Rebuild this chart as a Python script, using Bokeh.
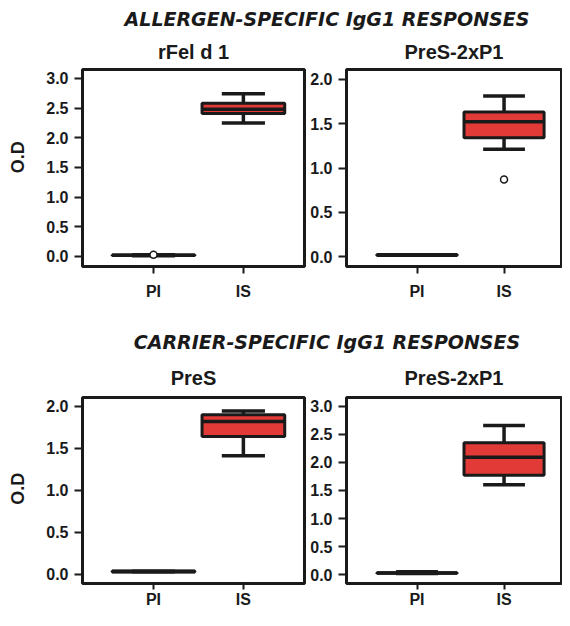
from math import pi
from bokeh.plotting import figure
from bokeh.layouts import column, row
from bokeh.models import FixedTicker, Range1d, Label, NumeralTickFormatter
from bokeh.embed import file_html
from bokeh.resources import INLINE

# ---------------- data ----------------
categories = ["PI", "IS"]
cat_pos = [1, 2]

header_top = "ALLERGEN-SPECIFIC IgG1 RESPONSES"
header_bottom = "CARRIER-SPECIFIC IgG1 RESPONSES"
y_label = "O.D"

# rFel d 1 (allergen-specific)
rfel_lower = [0.01, 2.25]
rfel_q1 = [0.015, 2.41]
rfel_median = [0.02, 2.48]
rfel_q3 = [0.025, 2.58]
rfel_upper = [0.03, 2.74]
rfel_out_cat = ["PI"]
rfel_out_val = [0.03]

# PreS-2xP1 (allergen-specific)
pa_lower = [0.02, 1.21]
pa_q1 = [0.015, 1.34]
pa_median = [0.02, 1.52]
pa_q3 = [0.025, 1.63]
pa_upper = [0.02, 1.81]
pa_out_cat = ["IS"]
pa_out_val = [0.87]

# PreS (carrier-specific)
pres_lower = [0.03, 1.41]
pres_q1 = [0.025, 1.64]
pres_median = [0.03, 1.82]
pres_q3 = [0.035, 1.90]
pres_upper = [0.03, 1.945]
pres_out_cat = []
pres_out_val = []

# PreS-2xP1 (carrier-specific)
pc_lower = [0.02, 1.60]
pc_q1 = [0.025, 1.77]
pc_median = [0.03, 2.09]
pc_q3 = [0.035, 2.35]
pc_upper = [0.05, 2.66]
pc_out_cat = []
pc_out_val = []

ticks_3 = [0.0, 0.5, 1.0, 1.5, 2.0, 2.5, 3.0]
ticks_2 = [0.0, 0.5, 1.0, 1.5, 2.0]

# ---------------- style ----------------
DARK = "#1a1a1a"
RED = "#e23a37"
BOX_W = 0.92
CAP_W = 0.48
SANS = "Liberation Sans"
TOTAL_W = 562


def blank(w, h):
    p = figure(output_backend="svg", toolbar_location=None, width=w, height=h,
               min_border=0, x_axis_location=None, y_axis_location=None,
               outline_line_color=None, x_range=Range1d(0, w), y_range=Range1d(0, h))
    p.grid.visible = False
    p.title.visible = False
    return p


def header(text, h, base):
    p = blank(TOTAL_W, h)
    p.add_layout(Label(x=326.5, y=base, text=text, text_align="center",
                       text_baseline="alphabetic", text_font="DejaVu Sans",
                       text_font_style="bold italic", text_font_size="19px",
                       text_color=DARK))
    return p


def ylab(h, yc):
    p = blank(43, h)
    p.add_layout(Label(x=17, y=yc, text=y_label, angle=pi / 2, text_align="center",
                       text_baseline="alphabetic", text_font=SANS, text_font_style="bold",
                       text_font_size="18px", text_color=DARK))
    return p


def panel(title, lower, q1, med, q3, upper, out_cat, out_val, y_lo, y_hi, ticks,
          x_lo, x_hi, w, h, mbl, mbr, mbt, mbb, tstand, xtick, xstand):
    p = figure(output_backend="svg", toolbar_location=None, width=w, height=h,
               x_range=Range1d(x_lo, x_hi), y_range=Range1d(y_lo, y_hi),
               min_border_left=mbl, min_border_right=mbr, min_border_top=mbt,
               min_border_bottom=mbb, background_fill_color="white",
               border_fill_color="white")
    p.grid.visible = False
    p.outline_line_color = DARK
    p.outline_line_width = 3
    p.outline_line_alpha = 1.0

    p.title.text = title
    p.title.align = "center"
    p.title.text_font = SANS
    p.title.text_font_style = "bold"
    p.title.text_font_size = "20px"
    p.title.text_color = DARK
    p.title.standoff = tstand

    for ax in (p.xaxis[0], p.yaxis[0]):
        ax.axis_line_color = None
        ax.major_tick_line_color = DARK
        ax.major_tick_line_width = 2
        ax.major_tick_in = 0
        ax.minor_tick_line_color = None
        ax.major_label_text_font = SANS
        ax.major_label_text_font_style = "bold"
        ax.major_label_text_font_size = "16px"
        ax.major_label_text_color = DARK
        ax.major_label_text_line_height = 1.0
    p.yaxis[0].major_tick_out = 8
    p.yaxis[0].major_label_standoff = 6
    p.xaxis[0].major_tick_out = xtick
    p.xaxis[0].major_label_standoff = xstand
    p.xaxis.ticker = FixedTicker(ticks=cat_pos)
    p.xaxis.major_label_overrides = {pos: c for pos, c in zip(cat_pos, categories)}
    p.yaxis.ticker = FixedTicker(ticks=ticks)
    p.yaxis.formatter = NumeralTickFormatter(format="0.0")

    xs = cat_pos
    # whiskers
    p.segment(x0=xs, x1=xs, y0=q3, y1=upper, line_color=DARK, line_width=3.5)
    p.segment(x0=xs, x1=xs, y0=lower, y1=q1, line_color=DARK, line_width=3.5)
    cx0 = [x - CAP_W / 2 for x in xs]
    cx1 = [x + CAP_W / 2 for x in xs]
    p.segment(x0=cx0, x1=cx1, y0=upper, y1=upper, line_color=DARK, line_width=3.5)
    p.segment(x0=cx0, x1=cx1, y0=lower, y1=lower, line_color=DARK, line_width=3.5)
    # boxes
    p.vbar(x=xs, width=BOX_W, bottom=q1, top=q3, fill_color=RED, line_color=DARK, line_width=3)
    # medians
    mx0 = [x - BOX_W / 2 for x in xs]
    mx1 = [x + BOX_W / 2 for x in xs]
    p.segment(x0=mx0, x1=mx1, y0=med, y1=med, line_color=DARK, line_width=3.5)
    # outliers
    if out_cat:
        pos = dict(zip(categories, cat_pos))
        p.scatter(x=[pos[c] for c in out_cat], y=out_val, marker="circle", size=7,
                  fill_color="white", line_color=DARK, line_width=1.5)
    return p


# row 1: 37 + 198 + 37 = 272 ; row 2: 38 + 190 + 27 = 255 ; total 31+272+52+255 = 610
H1, H2 = 272, 255
h1 = header(header_top, 31, 13)
yl1 = ylab(H1, 151)
pA = panel("rFel d 1", rfel_lower, rfel_q1, rfel_median, rfel_q3, rfel_upper,
           rfel_out_cat, rfel_out_val, -0.17, 3.15, ticks_3, 0.21, 2.68,
           263, H1, 38, 2, 37, 37, 14, 7, 9)
pB = panel("PreS-2xP1", pa_lower, pa_q1, pa_median, pa_q3, pa_upper,
           pa_out_cat, pa_out_val, -0.11, 2.11, ticks_2, 0.19, 2.66,
           256, H1, 40, 1, 37, 37, 14, 7, 9)
h2 = header(header_bottom, 52, 14)
yl2 = ylab(H2, 130)
pC = panel("PreS", pres_lower, pres_q1, pres_median, pres_q3, pres_upper,
           pres_out_cat, pres_out_val, -0.113, 2.105, ticks_2, 0.21, 2.68,
           263, H2, 38, 2, 38, 27, 18, 6, 1)
pD = panel("PreS-2xP1", pc_lower, pc_q1, pc_median, pc_q3, pc_upper,
           pc_out_cat, pc_out_val, -0.158, 3.157, ticks_3, 0.19, 2.66,
           256, H2, 40, 1, 38, 27, 18, 6, 1)

layout = column(h1, row(yl1, pA, pB), h2, row(yl2, pC, pD))
open("out.html", "w").write(file_html(layout, INLINE))
